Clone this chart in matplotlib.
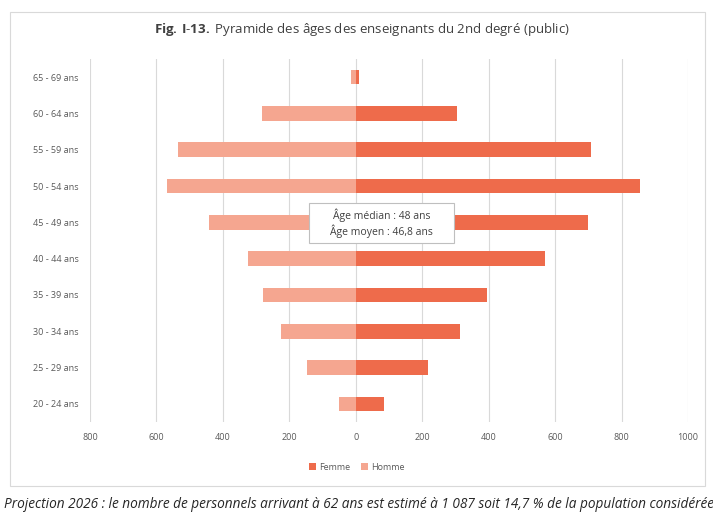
import matplotlib
matplotlib.use("Agg")
import matplotlib.pyplot as plt
from matplotlib.patches import Rectangle

categories = ["65 - 69 ans", "60 - 64 ans", "55 - 59 ans", "50 - 54 ans", "45 - 49 ans",
              "40 - 44 ans", "35 - 39 ans", "30 - 34 ans", "25 - 29 ans", "20 - 24 ans"]
femme = [10, 305, 707, 857, 698, 571, 394, 313, 217, 85]
homme = [-15, -283, -535, -568, -442, -325, -280, -225, -147, -51]
xticks = [-800, -600, -400, -200, 0, 200, 400, 600, 800, 1000]
xticklabels = ["800", "600", "400", "200", "0", "200", "400", "600", "800", "1000"]

plt.rcParams['font.family'] = ['Open Sans', 'DejaVu Sans']
plt.rcParams['mathtext.fontset'] = 'custom'
plt.rcParams['mathtext.bf'] = 'Open Sans:bold'
plt.rcParams['mathtext.rm'] = 'Open Sans'

fig = plt.figure(figsize=(7.13, 5.16), dpi=100)
ax = fig.add_axes([90/713, 1-422/516, (688-90)/713, (422-59)/516])

ypos = list(range(len(categories)))
c_f = "#EE6B4B"
c_h = "#F5A690"
ax.barh(ypos, femme, height=0.4, color=c_f, label="Femme", zorder=3)
ax.barh(ypos, homme, height=0.4, color=c_h, label="Homme", zorder=3)

ax.set_ylim(len(categories)-0.5, -0.5)
ax.set_xlim(-800, 1000)
ax.set_yticks(ypos)
ax.set_yticklabels(categories, fontsize=6.5, color="#595959")
ax.set_xticks(xticks)
ax.set_xticklabels(xticklabels, fontsize=6.5, color="#595959")
ax.tick_params(length=0, pad=8)
ax.grid(axis='x', color="#D9D9D9", linewidth=0.8, zorder=0)
for s in ax.spines.values():
    s.set_visible(False)

ax.add_patch(Rectangle((-141, 3.47), 436, 1.1, fc='white', ec='#BFBFBF', lw=0.8, zorder=4))
ax.text(77, 4.02, "Âge médian : 48 ans\nÂge moyen : 46,8 ans", ha='center', va='center',
        fontsize=7.5, color="#404040", linespacing=1.3, zorder=5)

leg = fig.legend(loc='center', bbox_to_anchor=(357/713, 1-467/516), ncol=2, frameon=False,
                 fontsize=6.5, handlelength=0.7, handleheight=0.7, columnspacing=1.2,
                 handletextpad=0.4, labelcolor="#595959")

fig.text(362/713, 1-30/516, r"$\bf{Fig.\,I\text{-}13.}$ Pyramide des âges des enseignants du 2nd degré (public)",
         ha='center', va='center', fontsize=9.5, color="#404040")

fig.patches.append(Rectangle((10/713, 1-486/516), (705-10)/713, (486-12)/516,
                             transform=fig.transFigure, fill=False, ec="#D9D9D9", lw=0.8))

fig.text(4/713, 1-505/516,
         "Projection 2026 : le nombre de personnels arrivant à 62 ans est estimé à 1 087 soit 14,7 % de la population considérée",
         ha='left', va='center', fontsize=9.8, style='italic', color="#262626")

fig.savefig("out.png", dpi=100)
